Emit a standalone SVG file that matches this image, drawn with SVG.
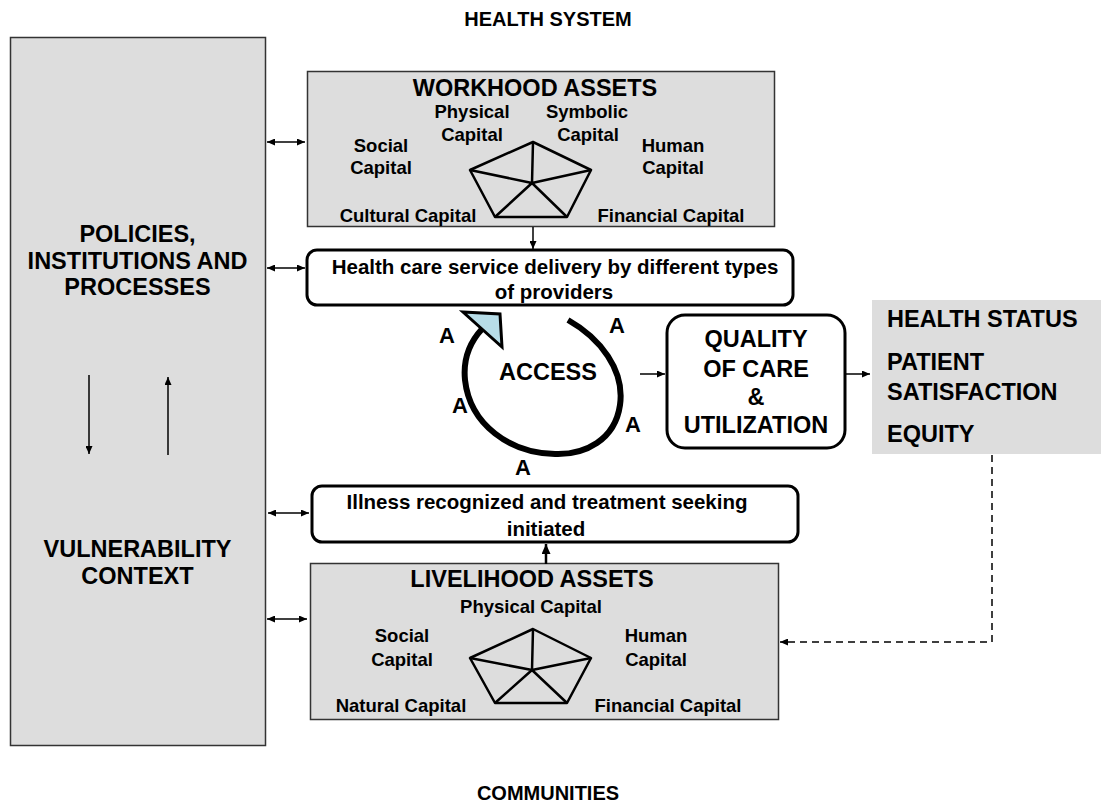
<svg xmlns="http://www.w3.org/2000/svg" width="1101" height="809" viewBox="0 0 1101 809">
<style>
text{font-family:"Liberation Sans",Arial,sans-serif;font-weight:bold;fill:#000}
.big{font-size:23.5px;text-anchor:middle}
.ttl{font-size:20px;text-anchor:middle}
.lab{font-size:20.5px;text-anchor:middle}
.cap{font-size:18.5px;text-anchor:middle}
.lft{font-size:23.5px;text-anchor:start}
.a{font-size:22px;text-anchor:middle}
.gray{fill:#dddddd;stroke:#333;stroke-width:1.5}
.rbox{fill:#fff;stroke:#000;stroke-width:3}
.pent{fill:none;stroke:#000;stroke-width:2.5;stroke-linejoin:round}
.ln{stroke:#000;stroke-width:1.5;fill:none}
.thk{stroke:#000;stroke-width:2.5;fill:none}
</style>
<defs>
<marker id="ah" viewBox="0 0 10 10" refX="10" refY="5" markerWidth="8" markerHeight="7" markerUnits="userSpaceOnUse" orient="auto-start-reverse" preserveAspectRatio="none"><path d="M0,0 L10,5 L0,10 z" fill="#000"/></marker>
<marker id="ahb" viewBox="0 0 10 10" refX="10" refY="5" markerWidth="10" markerHeight="9" markerUnits="userSpaceOnUse" orient="auto-start-reverse" preserveAspectRatio="none"><path d="M0,0 L10,5 L0,10 z" fill="#000"/></marker>
</defs>
<rect width="1101" height="809" fill="#fff"/>

<g id="title-top"><text class="ttl" x="548" y="26">HEALTH SYSTEM</text></g>
<g id="title-bottom"><text class="ttl" x="548" y="800">COMMUNITIES</text></g>

<g id="policies">
<rect class="gray" x="10.5" y="37.5" width="255" height="708"/>
<text class="big" x="137.5" y="242">POLICIES,</text>
<text class="big" x="137.5" y="269">INSTITUTIONS AND</text>
<text class="big" x="137.5" y="295">PROCESSES</text>
<text class="big" x="137.5" y="557">VULNERABILITY</text>
<text class="big" x="137.5" y="584">CONTEXT</text>
</g>

<g id="workhood">
<rect class="gray" x="307.5" y="71.5" width="467" height="155"/>
<text class="big" x="535" y="96">WORKHOOD ASSETS</text>
<text class="cap" x="472" y="118">Physical</text>
<text class="cap" x="472" y="141">Capital</text>
<text class="cap" x="587" y="118">Symbolic</text>
<text class="cap" x="588" y="141">Capital</text>
<text class="cap" x="381" y="152">Social</text>
<text class="cap" x="381" y="174">Capital</text>
<text class="cap" x="673" y="152">Human</text>
<text class="cap" x="673" y="174">Capital</text>
<text class="cap" x="408" y="222">Cultural Capital</text>
<text class="cap" x="671" y="222">Financial Capital</text>
<polygon class="pent" points="533,142 591,170 567,217 495,217 470,170"/>
<path class="pent" d="M532,183 L533,142 M532,183 L591,170 M532,183 L567,217 M532,183 L495,217 M532,183 L470,170"/>
</g>

<g id="service-delivery">
<rect class="rbox" x="307" y="250" width="486" height="55" rx="10"/>
<text class="lab" x="555" y="274">Health care service delivery by different types</text>
<text class="lab" x="554" y="299">of providers</text>
</g>

<g id="access">
<path d="M568,320 C600,338 625,370 620,405 C615,440 585,455 555,454 C510,453 470,425 465,380 C463,360 470,342 482,329" fill="none" stroke="#000" stroke-width="6"/>
<polygon points="463,312 500,314 502,347" fill="#b7dde8" stroke="#000" stroke-width="3" stroke-linejoin="miter"/>
<text class="big" x="548" y="380">ACCESS</text>
<text class="a" x="447" y="343">A</text>
<text class="a" x="617" y="333">A</text>
<text class="a" x="460" y="413">A</text>
<text class="a" x="633" y="432">A</text>
<text class="a" x="523" y="475">A</text>
</g>

<g id="quality">
<rect class="rbox" x="667" y="315" width="178" height="133" rx="18"/>
<text class="big" x="756" y="347">QUALITY</text>
<text class="big" x="756" y="377">OF CARE</text>
<text class="big" x="756" y="405">&amp;</text>
<text class="big" x="756" y="433">UTILIZATION</text>
</g>

<g id="outcomes">
<rect x="872" y="300" width="229" height="154" fill="#dddddd"/>
<text class="lft" x="887" y="327">HEALTH STATUS</text>
<text class="lft" x="887" y="370">PATIENT</text>
<text class="lft" x="887" y="400">SATISFACTION</text>
<text class="lft" x="887" y="442">EQUITY</text>
</g>

<g id="illness">
<rect class="rbox" x="312" y="486" width="486" height="56" rx="10"/>
<text class="lab" x="547" y="509">Illness recognized and treatment seeking</text>
<text class="lab" x="546" y="536">initiated</text>
</g>

<g id="livelihood">
<rect class="gray" x="310.5" y="563.5" width="468" height="156"/>
<text class="big" x="532" y="587">LIVELIHOOD ASSETS</text>
<text class="cap" x="531" y="613">Physical Capital</text>
<text class="cap" x="402" y="642">Social</text>
<text class="cap" x="402" y="666">Capital</text>
<text class="cap" x="656" y="642">Human</text>
<text class="cap" x="656" y="666">Capital</text>
<text class="cap" x="401" y="712">Natural Capital</text>
<text class="cap" x="668" y="712">Financial Capital</text>
<polygon class="pent" points="533,629 591,658 567,703 495,703 470,658"/>
<path class="pent" d="M532,670 L533,629 M532,670 L591,658 M532,670 L567,703 M532,670 L495,703 M532,670 L470,658"/>
</g>

<g id="connectors">
<line class="ln" x1="267" y1="142" x2="305" y2="142" marker-start="url(#ah)" marker-end="url(#ah)"/>
<line class="ln" x1="267" y1="268" x2="305" y2="268" marker-start="url(#ah)" marker-end="url(#ah)"/>
<line class="ln" x1="268" y1="513" x2="309" y2="513" marker-start="url(#ah)" marker-end="url(#ah)"/>
<line class="ln" x1="267" y1="619" x2="307" y2="619" marker-start="url(#ah)" marker-end="url(#ah)"/>
<line class="ln" x1="89" y1="375" x2="89" y2="454" marker-end="url(#ah)"/>
<line class="ln" x1="168" y1="455" x2="168" y2="377" marker-end="url(#ah)"/>
<line class="ln" x1="533" y1="227" x2="533" y2="249" marker-end="url(#ah)"/>
<line class="thk" x1="546" y1="564" x2="546" y2="544" marker-end="url(#ahb)"/>
<line class="ln" x1="640" y1="374" x2="665" y2="374" marker-end="url(#ah)"/>
<line class="ln" x1="845" y1="374" x2="870" y2="374" marker-end="url(#ah)"/>
<path class="ln" d="M992,455 L992,642 L780,642" stroke-dasharray="7,5" marker-end="url(#ah)"/>
</g>
</svg>
